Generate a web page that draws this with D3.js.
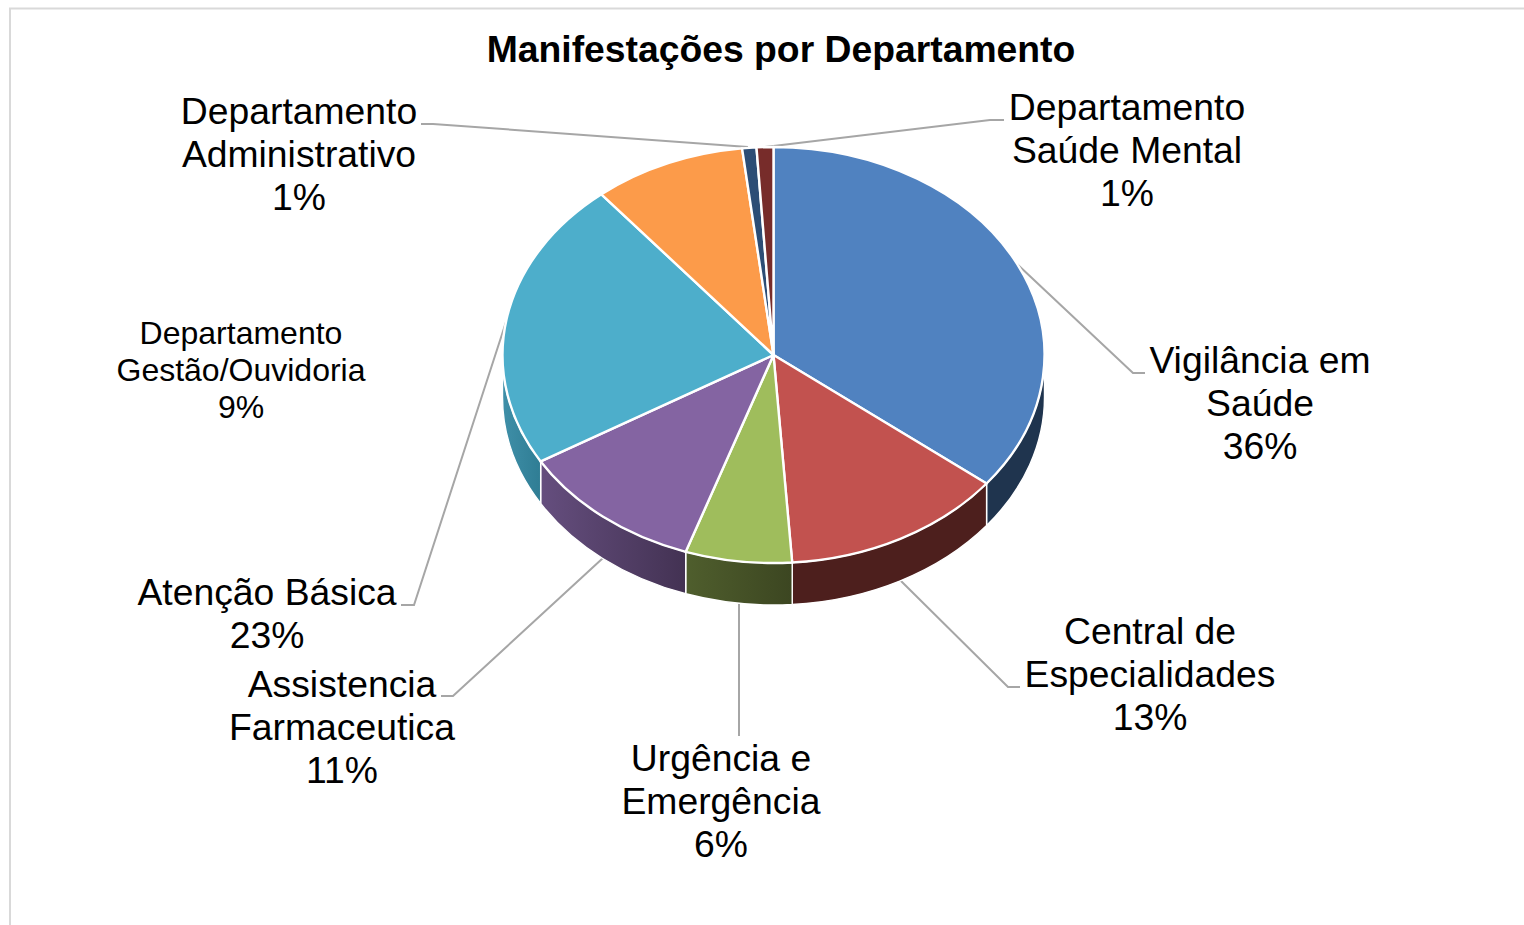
<!DOCTYPE html>
<html>
<head>
<meta charset="utf-8">
<script src="https://cdn.jsdelivr.net/npm/d3@7"></script>
<style>
  html, body { margin: 0; padding: 0; background: #fff; overflow: hidden; }
  text { font-family: "Liberation Sans", Arial, sans-serif; fill: #000; }
</style>
</head>
<body>
<div id="chart"></div>
<script>
// data (slice sizes estimated, labels show them rounded)
var categories = [
  "Vigilância em|Saúde",
  "Central de|Especialidades",
  "Urgência e|Emergência",
  "Assistencia|Farmaceutica",
  "Atenção Básica",
  "Departamento|Gestão/Ouvidoria",
  "Departamento|Administrativo",
  "Departamento|Saúde Mental"
];
var values = [35.6, 13.3, 6.35, 11.2, 22.6, 9.1, 0.85, 1.0];

var topColors = ["#5082c0", "#c2524f", "#9fbd5c", "#8464a2", "#4daecb", "#fc9b4a", "#2c4d75", "#772c2a"];
var wallLeft = ["#1f344e", "#4d1f1d", "#4f5e2d", "#654e7e", "#3f8fa8", "#a0622d", "#1c3049", "#4d1f1d"];
var wallRight = ["#1f344e", "#4d1f1d", "#3c4621", "#433253", "#2f7d94", "#a0622d", "#1c3049", "#4d1f1d"];

// label placement: centre x, first baseline, font size, leader polyline
var labelLayout = [
  { x: 1260, y: 373, size: 37.3, leader: [[1017, 264], [1133, 373], [1145, 373]] },
  { x: 1150, y: 644, size: 37.3, leader: [[900, 580], [1008, 687], [1020, 687]] },
  { x: 721, y: 771, size: 37.3, leader: [[739, 604], [739, 736]] },
  { x: 342, y: 697, size: 37.3, leader: [[603, 558], [453, 696], [441, 696]] },
  { x: 267, y: 605, size: 37.3, leader: [[506, 322], [414, 605], [401, 605]] },
  { x: 241, y: 344, size: 32, leader: null },
  { x: 299, y: 124, size: 37.3, leader: [[748, 147], [433, 124], [421, 124]] },
  { x: 1127, y: 120, size: 37.3, leader: [[765, 147], [990, 120], [1004, 120]] }
];

var svgWidth = 1524;
var svgHeight = 925;

var cx = 773.5;
var cy = 355;
var rx = 271;
var ry = 208;
var depth = 42;

var svg = d3.select("#chart")
  .append("svg")
  .attr("width", svgWidth)
  .attr("height", svgHeight)
  .style("display", "block");

// chart frame, open at the right and bottom of the crop
svg.append("path")
  .attr("d", "M10,925V8.5H1524")
  .attr("fill", "none")
  .attr("stroke", "#d9d9d9")
  .attr("stroke-width", 2);

svg.append("text")
  .attr("x", 781)
  .attr("y", 62)
  .attr("text-anchor", "middle")
  .attr("font-size", 37.3)
  .attr("font-weight", "bold")
  .text("Manifestações por Departamento");

var pie = d3.pie().sort(null).value(d => d);
var slices = pie(values);

var xScale = d3.scaleLinear().domain([-1, 1]).range([cx - rx, cx + rx]);
var yScale = d3.scaleLinear().domain([-1, 1]).range([cy - ry, cy + ry]);

function rimPoint(angle) {
  var p = d3.pointRadial(angle, 1);
  return [xScale(p[0]), yScale(p[1])];
}

// leader lines sit behind the pie
labelLayout.forEach(function(l) {
  if (!l.leader) return;
  svg.append("path")
    .attr("d", d3.line()(l.leader))
    .attr("fill", "none")
    .attr("stroke", "#a6a6a6")
    .attr("stroke-width", 2);
});

var defs = svg.append("defs");

// side walls: only the part of each slice on the front half of the rim
var wallGroup = svg.append("g");
slices.forEach(function(s, i) {
  var a0 = Math.max(s.startAngle, Math.PI / 2);
  var a1 = Math.min(s.endAngle, Math.PI * 3 / 2);
  if (a1 <= a0) return;

  var p0 = rimPoint(a0);
  var p1 = rimPoint(a1);

  var grad = defs.append("linearGradient")
    .attr("id", "wall" + i)
    .attr("gradientUnits", "userSpaceOnUse")
    .attr("x1", Math.min(p0[0], p1[0]))
    .attr("x2", Math.max(p0[0], p1[0]))
    .attr("y1", 0)
    .attr("y2", 0);
  grad.append("stop").attr("offset", 0).attr("stop-color", wallLeft[i]);
  grad.append("stop").attr("offset", 1).attr("stop-color", wallRight[i]);

  var d = `M${p0[0]},${p0[1]}`
    + `A${rx},${ry} 0 0 1 ${p1[0]},${p1[1]}`
    + `L${p1[0]},${p1[1] + depth}`
    + `A${rx},${ry} 0 0 0 ${p0[0]},${p0[1] + depth}Z`;

  wallGroup.append("path")
    .attr("d", d)
    .attr("fill", `url(#wall${i})`)
    .attr("stroke", "#fff")
    .attr("stroke-width", 1.4)
    .attr("stroke-linejoin", "round");
});

// top face: a flat arc squashed into an ellipse
var arc = d3.arc().innerRadius(0).outerRadius(rx);

svg.append("g")
  .attr("transform", `translate(${cx}, ${cy}) scale(1, ${ry / rx})`)
  .selectAll("path")
  .data(slices)
  .enter()
  .append("path")
  .attr("d", arc)
  .attr("fill", (d, i) => topColors[i])
  .attr("stroke", "#fff")
  .attr("stroke-width", 2.4)
  .attr("stroke-linejoin", "round")
  .attr("vector-effect", "non-scaling-stroke");

// labels
categories.forEach(function(name, i) {
  var l = labelLayout[i];
  var lines = name.split("|").concat([Math.round(values[i]) + "%"]);
  var lineHeight = l.size === 32 ? 37 : 43;

  var label = svg.append("text")
    .attr("text-anchor", "middle")
    .attr("font-size", l.size);

  lines.forEach(function(t, j) {
    label.append("tspan")
      .attr("x", l.x)
      .attr("y", l.y + j * lineHeight)
      .text(t);
  });
});
</script>
</body>
</html>
